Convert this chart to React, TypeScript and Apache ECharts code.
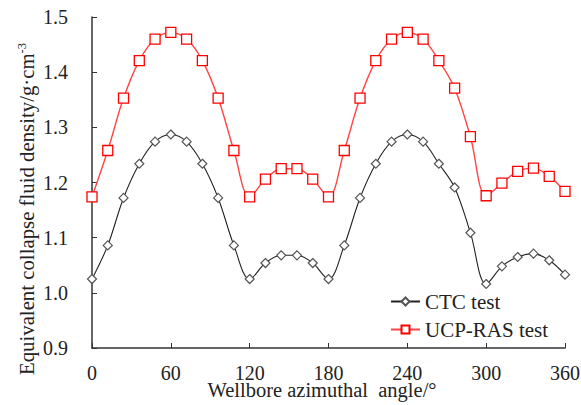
import React, { useEffect, useRef } from "react";
import * as echarts from "echarts";

const angles = [0, 12, 24, 36, 48, 60, 72, 84, 96, 108, 120, 132, 144, 156, 168, 180, 192, 204, 216, 228, 240, 252, 264, 276, 288, 300, 312, 324, 336, 348, 360];
const ctcValues = [1.025, 1.086, 1.172, 1.234, 1.274, 1.287, 1.274, 1.234, 1.172, 1.086, 1.025, 1.054, 1.068, 1.068, 1.054, 1.025, 1.086, 1.172, 1.234, 1.274, 1.287, 1.274, 1.234, 1.191, 1.109, 1.016, 1.048, 1.065, 1.071, 1.059, 1.033];
const ucpValues = [1.174, 1.258, 1.353, 1.421, 1.46, 1.472, 1.46, 1.421, 1.353, 1.258, 1.174, 1.206, 1.225, 1.225, 1.206, 1.174, 1.258, 1.353, 1.421, 1.46, 1.472, 1.46, 1.421, 1.371, 1.283, 1.176, 1.199, 1.22, 1.226, 1.211, 1.184];
const seriesNames = ["CTC test", "UCP-RAS test"];
const xTitle = "Wellbore azimuthal  angle/°";
const yTitle = "Equivalent collapse fluid density/g·cm{sup|-3}";

const FONT = "Liberation Serif";

export default function App() {
  const ref = useRef<HTMLDivElement>(null);
  useEffect(() => {
    if (!ref.current) return;
    const chart = echarts.init(ref.current, null, { renderer: "svg" });
    chart.setOption({
      animation: false,
      backgroundColor: "#ffffff",
      textStyle: { fontFamily: FONT },
      grid: { left: 92, right: 16, top: 17, bottom: 57, containLabel: false, outerBoundsMode: "none" },
      legend: {
        orient: "vertical",
        left: 385,
        top: 286,
        itemWidth: 29,
        itemHeight: 10,
        itemGap: 7,
        textStyle: { fontFamily: FONT, fontSize: 21, color: "#222" },
        data: seriesNames,
      },
      graphic: [
        {
          type: "text",
          x: 26,
          y: 209,
          rotation: Math.PI / 2,
          style: {
            text: yTitle,
            fontFamily: FONT,
            fontSize: 20.8,
            fill: "#222",
            align: "center",
            verticalAlign: "middle",
            rich: {
              sup: { fontFamily: FONT, fontSize: 12.5, fill: "#222", verticalAlign: "top", padding: [0, 0, 8, 0] },
            },
          },
        },
        {
          type: "text",
          x: 322,
          y: 390,
          style: {
            text: xTitle,
            fontFamily: FONT,
            fontSize: 20.5,
            fill: "#222",
            align: "center",
            verticalAlign: "middle",
          },
        },
      ],
      xAxis: {
        type: "value",
        min: 0,
        max: 360,
        interval: 60,
        axisLine: { show: true, lineStyle: { color: "#333", width: 1.5 } },
        axisTick: { show: true, inside: true, length: 5, lineStyle: { color: "#333" } },
        axisLabel: { fontFamily: FONT, fontSize: 20, color: "#222", margin: 15 },
        splitLine: { show: false },
      },
      yAxis: {
        type: "value",
        min: 0.9,
        max: 1.5,
        interval: 0.1,
        axisLine: { show: true, lineStyle: { color: "#333", width: 1.5 } },
        axisTick: { show: true, inside: true, length: 5, lineStyle: { color: "#333" } },
        axisLabel: {
          fontFamily: FONT,
          fontSize: 20,
          color: "#222",
          margin: 24,
          formatter: (v: number) => v.toFixed(1),
        },
        splitLine: { show: false },
      },
      series: [
        {
          name: seriesNames[0],
          type: "line",
          smooth: 0.35,
          data: angles.map((a, i) => [a, ctcValues[i]]),
          symbol: "diamond",
          symbolSize: 9,
          showAllSymbol: true,
          lineStyle: { color: "#222", width: 1.1 },
          itemStyle: { color: "#ffffff", borderColor: "#555", borderWidth: 1.2 },
        },
        {
          name: seriesNames[1],
          type: "line",
          smooth: 0.35,
          data: angles.map((a, i) => [a, ucpValues[i]]),
          symbol: "rect",
          symbolSize: 10,
          showAllSymbol: true,
          lineStyle: { color: "#ff4545", width: 1.4 },
          itemStyle: { color: "#ffffff", borderColor: "#ff0000", borderWidth: 1.3 },
        },
      ],
    });
    return () => chart.dispose();
  }, []);
  return <div ref={ref} style={{ width: 581, height: 405, position: "absolute", left: 0, top: 0 }} />;
}
